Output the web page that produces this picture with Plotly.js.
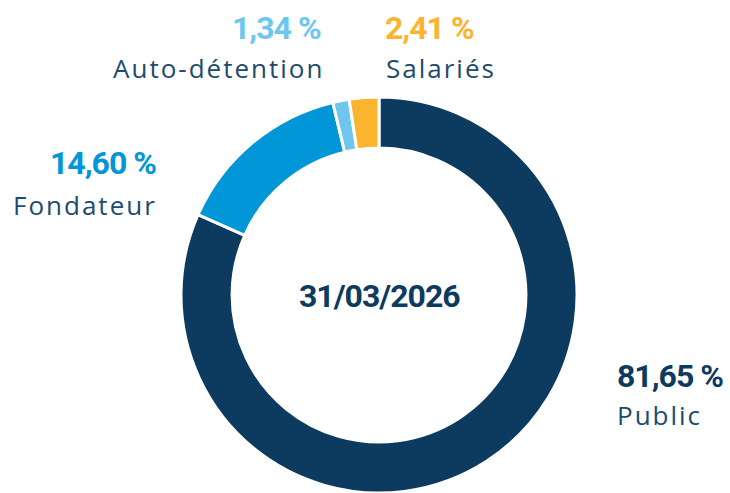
<!DOCTYPE html>
<html>
<head>
<meta charset="utf-8">
<script src="https://cdn.plot.ly/plotly-3.0.1.min.js"></script>
<style>html,body{margin:0;padding:0;background:#fff;}#chart{width:730px;height:493px;}</style>
</head>
<body>
<div id="chart"></div>
<script>
const categories = ["Public", "Fondateur", "Auto-détention", "Salariés"];
const shares = [81.65, 14.60, 1.34, 2.41];
const shareLabels = ["81,65 %", "14,60 %", "1,34 %", "2,41 %"];
const dateLabel = "31/03/2026";
const colors = ["#0c3b5f", "#0096d8", "#6dc6ec", "#fbb42e"];

const W = 730, H = 493;
const cx = 379, cy = 295, R = 198;

const pctFont = "Roboto, 'Liberation Sans', sans-serif";
const lblFont = "'Open Sans', 'Noto Sans', sans-serif";
const lblColor = "#1d4b6e";

function cond(t) { return '<span style="letter-spacing:-1px;font-weight:bold">' + t + '</span>'; }
function wide(t) { return '<span style="letter-spacing:2px">' + t + '</span>'; }

// label placement: [pctX, pctY, lblX, lblY, anchor]
const place = [
  [615, 376, 615, 415, "left"],
  [158, 163, 159, 205, "right"],
  [323, 28, 326, 68, "right"],
  [383, 28, 384, 68, "left"]
];

const annotations = [];
categories.forEach((c, i) => {
  const p = place[i];
  annotations.push({
    text: cond(shareLabels[i]), xref: "paper", yref: "paper",
    x: p[0] / W, y: 1 - p[1] / H, xanchor: p[4], yanchor: "middle",
    showarrow: false, font: {family: pctFont, size: 32, color: colors[i]}
  });
  annotations.push({
    text: wide(c), xref: "paper", yref: "paper",
    x: p[2] / W, y: 1 - p[3] / H, xanchor: p[4], yanchor: "middle",
    showarrow: false, font: {family: lblFont, size: 26, color: lblColor}
  });
});
annotations.push({
  text: cond(dateLabel), xref: "paper", yref: "paper",
  x: cx / W, y: 1 - 296 / H, xanchor: "center", yanchor: "middle",
  showarrow: false, font: {family: pctFont, size: 32, color: "#0c3b5f"}
});

const data = [{
  type: "pie",
  labels: categories,
  values: shares,
  hole: 0.742,
  sort: false,
  direction: "clockwise",
  rotation: 0,
  textinfo: "none",
  hoverinfo: "label+percent",
  marker: {colors: colors, line: {color: "#ffffff", width: 3}},
  domain: {x: [(cx - R) / W, (cx + R) / W], y: [(H - cy - R) / H, (H - cy + R) / H]},
  showlegend: false
}];

const layout = {
  width: W, height: H,
  margin: {l: 0, r: 0, t: 0, b: 0},
  paper_bgcolor: "#ffffff",
  showlegend: false,
  annotations: annotations
};

Plotly.newPlot("chart", data, layout, {displayModeBar: false, staticPlot: true});
</script>
</body>
</html>
